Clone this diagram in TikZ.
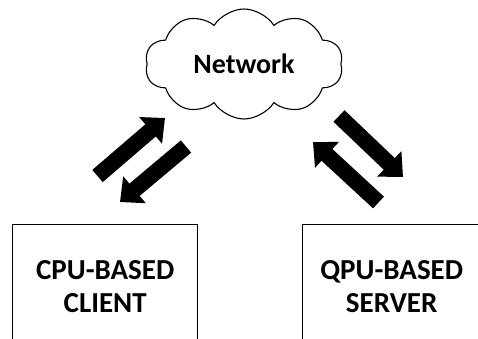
\documentclass[tikz,border=0pt]{standalone}
\usepackage{fontspec}
\setmainfont{Carlito}
\usetikzlibrary{arrows.meta,shapes.symbols}

\begin{document}
\begin{tikzpicture}[x=1pt, y=-1pt, thick,
    fat/.style={line width=16pt, -{Triangle[width=34pt,length=19pt]}},
    unit/.style={rectangle, draw, line width=1.4pt, minimum width=185pt, minimum height=124pt, anchor=north west, align=center, font=\fontsize{29}{33}\selectfont\bfseries}]
    \clip (0,0) rectangle (478,339);
    \node (N) [cloud, draw, line width=1.1pt, cloud puffs=10, cloud puff arc=115, aspect=1.85, minimum width=198pt, minimum height=110pt, inner sep=0pt, font=\fontsize{28}{32}\selectfont\bfseries] at (244,64) {Network};
    \node (C) [unit] at (12,224) {CPU-BASED\\ CLIENT};
    \node (S) [unit, minimum width=178pt] at (302,224) {QPU-BASED\\ SERVER};
    
    \coordinate (A1) at (97.5,176);
    \coordinate (A2) at (165,118);
    \coordinate (B1) at (186,146.5);
    \coordinate (B2) at (120,202);
    \coordinate (D1) at (339,116);
    \coordinate (D2) at (403,177);
    \coordinate (E1) at (378.5,202.5);
    \coordinate (E2) at (313,142);
    
    \draw[fat] (A1) -- (A2);
    \draw[fat] (B1) -- (B2);
    \draw[fat] (D1) -- (D2);
    \draw[fat] (E1) -- (E2);
\end{tikzpicture}
\end{document}
